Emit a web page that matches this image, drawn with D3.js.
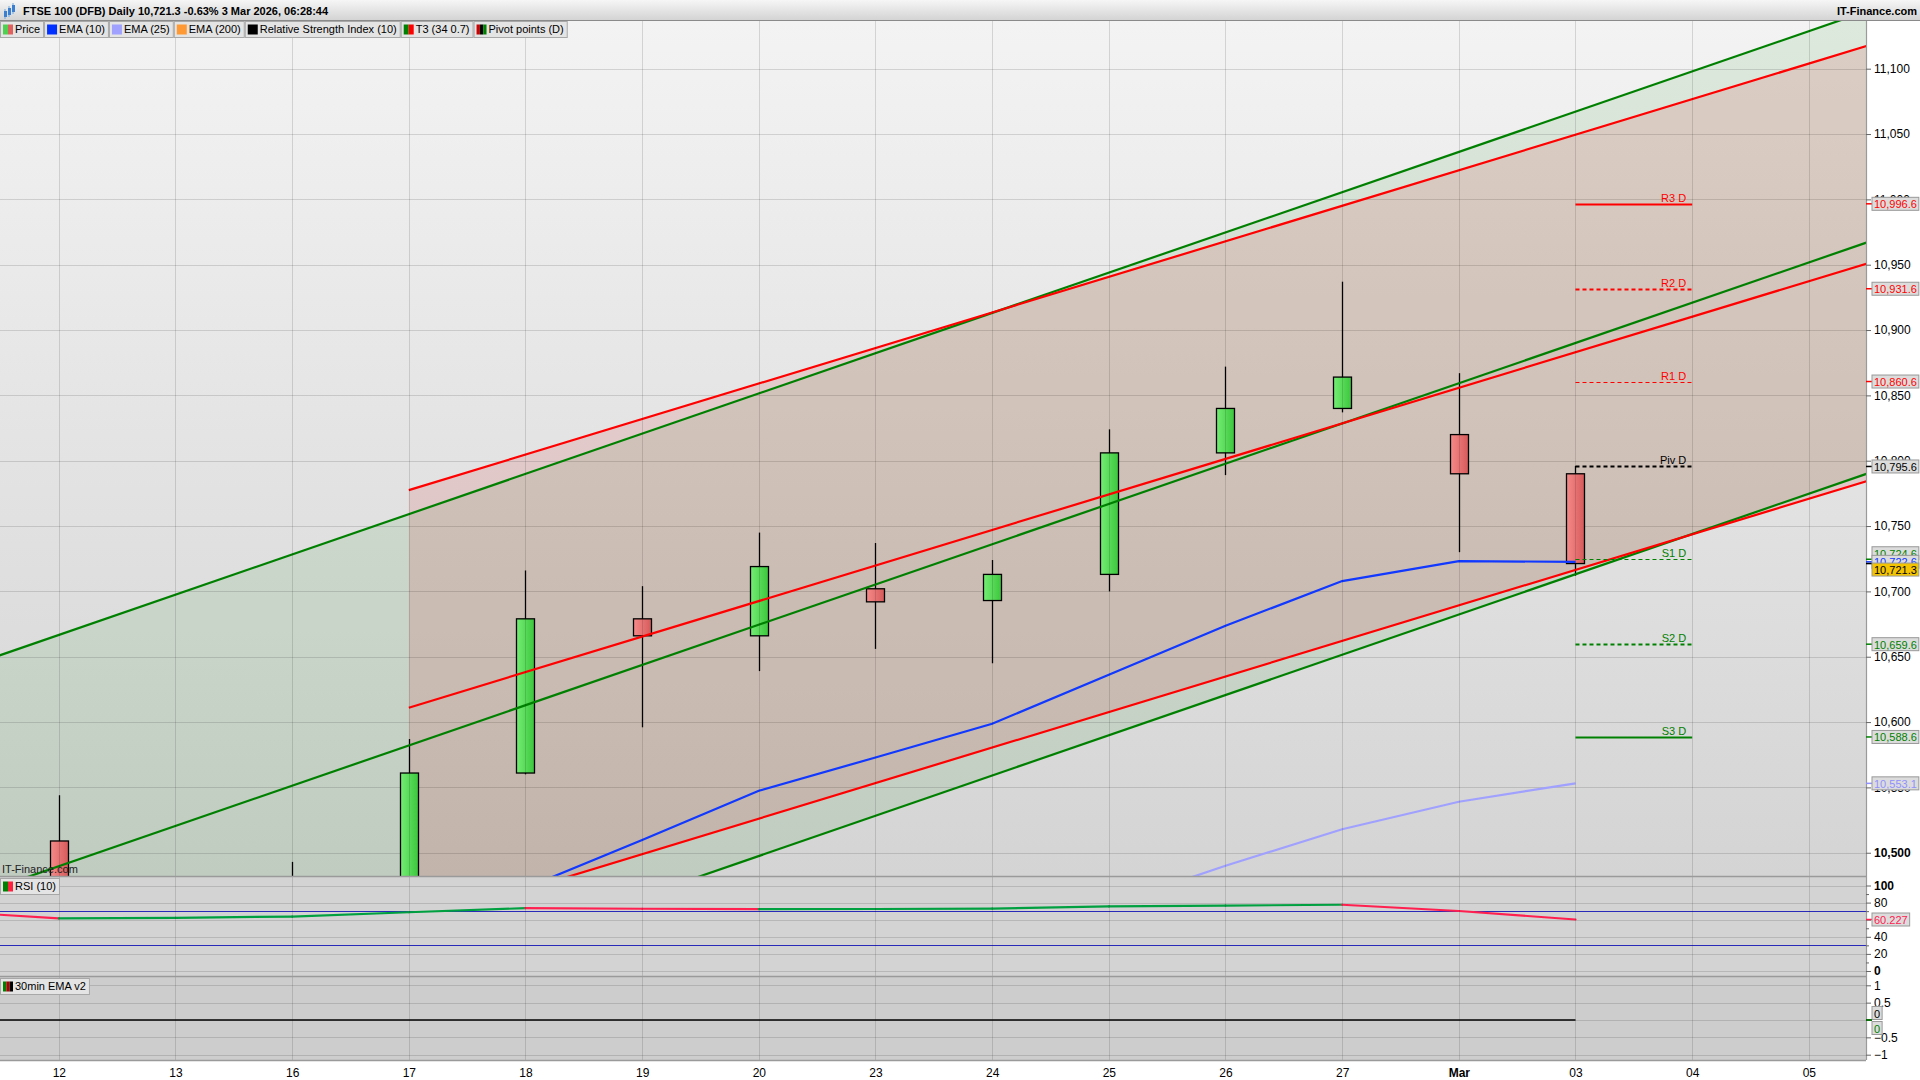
<!DOCTYPE html>
<html><head><meta charset="utf-8">
<script src="https://cdn.jsdelivr.net/npm/d3@7"></script>
<style>
body{margin:0;background:#fff;}
svg{display:block;font-family:"Liberation Sans",Arial,Helvetica,sans-serif;}
</style>
</head><body>
<svg id="c" width="1920" height="1080"></svg>
<script>
// ---------------- DATA ----------------
const dates = ["12","13","16","17","18","19","20","23","24","25","26","27","Mar","03","04","05"];
const openP  = [10509,10445,10440,10462,10561,10679,10666,10702,10693,10713,10806,10840,10820,10790];
const highP  = [10544,10475,10493,10587,10716,10704,10745,10737,10724,10824,10872,10937,10867,10796];
const lowP   = [10420,10400,10420,10450,10560,10596,10639,10656,10645,10700,10789,10837,10730,10712];
const closeP = [10445,10430,10455,10561,10679,10666,10719,10692,10713,10806,10840,10864,10790,10721.3];

const ema10Start = 3;
const ema10 = [10436,10473,10509.7,10547.4,10572.9,10598.7,10636.2,10673.7,10707.9,10723.2,10722.6];
const ema25Start = 8;
const ema25 = [10445,10460,10490,10518,10539,10553.1];

// T3 channels: value at first and last index
const greenIdx   = [-0.6, 15.6];
const greenUpper = [10648.2, 11147.2];
const greenMid   = [10471.2, 10970.2];
const greenLower = [10294.2, 10793.2];
const redIdx     = [3, 15.6];
const redUpper   = [10777.5, 11120.2];
const redMid     = [10611.0, 10953.7];
const redLower   = [10444.5, 10787.2];

const pivotNames  = ["R3 D","R2 D","R1 D","Piv D","S1 D","S2 D","S3 D"];
const pivotValues = [10996.6,10931.6,10860.6,10795.6,10724.6,10659.6,10588.6];
const pivotIdx    = [13, 14];

const rsiStart = -1;
const rsiValues = [70,61.5,62.2,63.7,68.7,73.5,72.8,72.3,72.5,73,75.5,76.5,77.5,70.2,60.227];
const rsiBands = [70, 30];

const emaV2Start = -1;
const emaV2 = [0,0,0,0,0,0,0,0,0,0,0,0,0,0,0];

const priceTicks = [10500,10550,10600,10650,10700,10750,10800,10850,10900,10950,11000,11050,11100];
const rsiTicks = [0,20,40,60,80,100];
const p3Ticks = [-1,-0.5,0,0.5,1];

const legendItems = ["Price","EMA (10)","EMA (25)","EMA (200)","Relative Strength Index (10)","T3 (34 0.7)","Pivot points (D)"];
const legendColors = [["#50d050","#e06060"],["#0030ff"],["#a0a0ff"],["#ff9933"],["#000000"],["#008000","#ff0000"],["#cc0000","#000000","#008000"]];

// ---------------- LAYOUT ----------------
const W = 1920, H = 1080, R = 1866;
const PT = 21, PB = 876, RT = 877, RB = 976, QT = 977, QB = 1060;
const FS = 11;

const svg = d3.select("#c");
const defs = svg.append("defs");

const x = d3.scaleLinear().domain([-0.504, 15.49]).range([0, R]);
const y = d3.scaleLinear().domain([10482.2, 11136.5]).range([PB, PT]);
const yR = d3.scaleLinear().domain([0, 100]).range([971, 885.5]);
const y3 = d3.scaleLinear().domain([-1, 1]).range([1054.7, 985.3]);

// gradients
const bgG = defs.append("linearGradient").attr("id","bgG").attr("x1",0).attr("x2",0).attr("y1",0).attr("y2",1);
bgG.append("stop").attr("offset",0).attr("stop-color","#f3f3f3");
bgG.append("stop").attr("offset",1).attr("stop-color","#d4d4d4");
const hdG = defs.append("linearGradient").attr("id","hdG").attr("x1",0).attr("x2",0).attr("y1",0).attr("y2",1);
hdG.append("stop").attr("offset",0).attr("stop-color","#f6f6f6");
hdG.append("stop").attr("offset",1).attr("stop-color","#d2d2d2");
const upG = defs.append("linearGradient").attr("id","upG");
upG.append("stop").attr("offset",0).attr("stop-color","#74ee74");
upG.append("stop").attr("offset",1).attr("stop-color","#3cc63c");
const dnG = defs.append("linearGradient").attr("id","dnG");
dnG.append("stop").attr("offset",0).attr("stop-color","#f68a8a");
dnG.append("stop").attr("offset",1).attr("stop-color","#d65a5a");

defs.append("clipPath").attr("id","clipP").append("rect").attr("x",0).attr("y",PT).attr("width",R).attr("height",PB-PT);
defs.append("clipPath").attr("id","clipR").append("rect").attr("x",0).attr("y",RT).attr("width",R).attr("height",RB-RT);
defs.append("clipPath").attr("id","clipQ").append("rect").attr("x",0).attr("y",QT).attr("width",R).attr("height",QB-QT);

// backgrounds
svg.append("rect").attr("width",W).attr("height",H).attr("fill","#ffffff");
svg.append("rect").attr("x",0).attr("y",PT).attr("width",R).attr("height",PB-PT).attr("fill","url(#bgG)");
svg.append("rect").attr("x",0).attr("y",RT).attr("width",R).attr("height",RB-RT).attr("fill","#d3d3d3");
svg.append("rect").attr("x",0).attr("y",QT).attr("width",R).attr("height",QB-QT).attr("fill","#cdcdcd");

const gP = svg.append("g").attr("clip-path","url(#clipP)");
const gR = svg.append("g").attr("clip-path","url(#clipR)");
const gQ = svg.append("g").attr("clip-path","url(#clipQ)");

// channel fills
function band(idx, up, lo, fill){
  const pts = [[idx[0], up[0]],[idx[1], up[1]],[idx[1], lo[1]],[idx[0], lo[0]]];
  gP.append("path").attr("d", d3.line().x(d=>x(d[0])).y(d=>y(d[1]))(pts)+"Z").attr("fill", fill);
}
band(greenIdx, greenUpper, greenLower, "rgba(0,128,0,0.085)");
band(redIdx, redUpper, redLower, "rgba(215,0,0,0.115)");

// grid
gP.selectAll(".hg").data(priceTicks).join("line")
  .attr("x1",0).attr("x2",R).attr("y1",d=>Math.round(y(d))+0.5).attr("y2",d=>Math.round(y(d))+0.5)
  .attr("stroke","rgba(0,0,0,0.13)");
gR.selectAll(".hg").data(rsiTicks).join("line")
  .attr("x1",0).attr("x2",R).attr("y1",d=>Math.round(yR(d))+0.5).attr("y2",d=>Math.round(yR(d))+0.5)
  .attr("stroke","rgba(0,0,0,0.13)");
gQ.selectAll(".hg").data(p3Ticks).join("line")
  .attr("x1",0).attr("x2",R).attr("y1",d=>Math.round(y3(d))+0.5).attr("y2",d=>Math.round(y3(d))+0.5)
  .attr("stroke","rgba(0,0,0,0.13)");
svg.append("g").selectAll("line").data(d3.range(dates.length)).join("line")
  .attr("x1",d=>Math.round(x(d))+0.5).attr("x2",d=>Math.round(x(d))+0.5).attr("y1",PT).attr("y2",QB)
  .attr("stroke","rgba(0,0,0,0.13)");

// candles
const cw = 18;
const candles = gP.selectAll(".cd").data(openP.map((o,i)=>({i,o,h:highP[i],l:lowP[i],c:closeP[i]}))).join("g");
candles.append("line")
  .attr("x1",d=>Math.round(x(d.i))+0.5).attr("x2",d=>Math.round(x(d.i))+0.5)
  .attr("y1",d=>y(d.h)).attr("y2",d=>y(d.l)).attr("stroke","#000").attr("stroke-width",1.3);
candles.append("rect")
  .attr("x",d=>Math.round(x(d.i))-cw/2+0.5).attr("width",cw)
  .attr("y",d=>y(Math.max(d.o,d.c))).attr("height",d=>Math.max(1,Math.abs(y(d.o)-y(d.c))))
  .attr("fill",d=>d.c>=d.o?"url(#upG)":"url(#dnG)").attr("stroke","#000").attr("stroke-width",1.3);

// channel lines
function seg(idx, vals, color){
  gP.append("line").attr("x1",x(idx[0])).attr("x2",x(idx[1])).attr("y1",y(vals[0])).attr("y2",y(vals[1]))
    .attr("stroke",color).attr("stroke-width",2.2);
}
seg(greenIdx, greenUpper, "#008000");
seg(greenIdx, greenMid, "#008000");
seg(greenIdx, greenLower, "#008000");
seg(redIdx, redUpper, "#ff0000");
seg(redIdx, redMid, "#ff0000");
seg(redIdx, redLower, "#ff0000");

// EMAs
const ln = d3.line().x(d=>x(d[0])).y(d=>y(d[1]));
gP.append("path").attr("d", ln(ema25.map((v,k)=>[ema25Start+k, v]))).attr("fill","none").attr("stroke","#a0a0ff").attr("stroke-width",2.2);
gP.append("path").attr("d", ln(ema10.map((v,k)=>[ema10Start+k, v]))).attr("fill","none").attr("stroke","#1038ff").attr("stroke-width",2.2);

// pivots
const pivStyle = [
  {c:"#ff0000", w:2.2, dash:null},
  {c:"#ff0000", w:2.2, dash:"4,3"},
  {c:"#ff0000", w:1, dash:"4,3"},
  {c:"#000000", w:2.2, dash:"4,3"},
  {c:"#008000", w:1, dash:"4,3"},
  {c:"#008000", w:2.2, dash:"4,3"},
  {c:"#008000", w:2.2, dash:null}
];
const pivTxt = ["#ff0000","#ff0000","#ff0000","#000000","#008000","#008000","#008000"];
pivotValues.forEach((v,k)=>{
  const yy = Math.round(y(v))+0.5;
  gP.append("line").attr("x1",x(pivotIdx[0])).attr("x2",x(pivotIdx[1])).attr("y1",yy).attr("y2",yy)
    .attr("stroke",pivStyle[k].c).attr("stroke-width",pivStyle[k].w).attr("stroke-dasharray",pivStyle[k].dash);
  gP.append("text").attr("x",x(pivotIdx[1])-6).attr("y",yy-3).attr("text-anchor","end")
    .attr("font-size",11).attr("fill",pivTxt[k]).text(pivotNames[k]);
});

// watermark
svg.append("text").attr("x",2).attr("y",PB-3).attr("font-size",FS).attr("fill","#222").text("IT-Finance.com");

// RSI
gR.selectAll(".band").data(rsiBands).join("line")
  .attr("x1",0).attr("x2",R).attr("y1",d=>Math.round(yR(d))+0.5).attr("y2",d=>Math.round(yR(d))+0.5)
  .attr("stroke","#2a2ab8").attr("stroke-width",1.2);
for(let k=1;k<rsiValues.length;k++){
  const a = rsiValues[k-1], b = rsiValues[k];
  gR.append("line").attr("x1",x(rsiStart+k-1)).attr("x2",x(rsiStart+k)).attr("y1",yR(a)).attr("y2",yR(b))
    .attr("stroke", b>=a ? "#00a040" : "#ff2050").attr("stroke-width",2.2).attr("stroke-linecap","round");
}

// Panel 3 line
gQ.append("path").attr("d", d3.line().x(d=>x(d[0])).y(d=>y3(d[1]))(emaV2.map((v,k)=>[emaV2Start+k,v])))
  .attr("fill","none").attr("stroke","#000").attr("stroke-width",1.5);

// panel borders
[PB, RB, QB].forEach(v=>{
  svg.append("line").attr("x1",0).attr("x2",R).attr("y1",v+0.5).attr("y2",v+0.5).attr("stroke","#9a9a9a").attr("stroke-width",1.5);
});
svg.append("line").attr("x1",R+0.5).attr("x2",R+0.5).attr("y1",PT).attr("y2",QB).attr("stroke","#9a9a9a").attr("stroke-width",1.2);

// ---------------- AXES ----------------
const axP = svg.append("g").attr("transform",`translate(${R},0)`)
  .call(d3.axisRight(y).tickValues(priceTicks).tickFormat(d3.format(",")).tickSize(5).tickPadding(3));
const axR = svg.append("g").attr("transform",`translate(${R},0)`)
  .call(d3.axisRight(yR).tickValues(rsiTicks).tickSize(5).tickPadding(3));
const axR2 = svg.append("g").attr("transform",`translate(${R},0)`)
  .call(d3.axisRight(yR).tickValues([10,30,50,70,90]).tickFormat("").tickSize(3));
const axQ = svg.append("g").attr("transform",`translate(${R},0)`)
  .call(d3.axisRight(y3).tickValues(p3Ticks.filter(d=>d!==0)).tickFormat(d=>d===1||d===-1?d3.format("d")(d):d3.format(".1f")(d)).tickSize(5).tickPadding(3));
[axP, axR, axR2, axQ].forEach(a=>{
  a.select(".domain").remove();
  a.selectAll("line").attr("stroke","#666");
  a.selectAll("text").attr("font-size",12).attr("fill","#000").attr("font-family","Liberation Sans, Arial, sans-serif");
});
axP.selectAll("text").attr("font-weight",d=>d===10500?"bold":"normal");
axR.selectAll("text").attr("font-weight",d=>d===100||d===0?"bold":"normal");

const axX = svg.append("g").attr("transform",`translate(0,${QB})`)
  .call(d3.axisBottom(x).tickValues(d3.range(dates.length)).tickFormat(i=>dates[i]).tickSize(0).tickPadding(8));
axX.select(".domain").remove();
axX.selectAll("text").attr("font-size",12).attr("fill","#000").attr("font-family","Liberation Sans, Arial, sans-serif")
  .attr("font-weight",(d)=>dates[d]==="Mar"?"bold":"normal");

// value tags
function tag(v, scale, text, color, bg, dy){
  const yy = scale(v);
  svg.append("line").attr("x1",R).attr("x2",R+6).attr("y1",yy).attr("y2",yy).attr("stroke",color).attr("stroke-width",1.5);
  const g = svg.append("g").attr("transform",`translate(${R+6},${yy+dy})`);
  const t = g.append("text").attr("x",2).attr("y",4.5).attr("font-size",FS).attr("fill",color).text(text);
  const wdt = t.node().getComputedTextLength()+4;
  g.insert("rect","text").attr("x",0).attr("y",-6.5).attr("width",wdt).attr("height",13)
    .attr("fill",bg).attr("stroke","#999").attr("stroke-width",1);
}
const fmt = d3.format(",.1f");
tag(pivotValues[0], y, fmt(pivotValues[0]), "#ff0000", "#dcdcdc", 0);
tag(pivotValues[1], y, fmt(pivotValues[1]), "#ff0000", "#dcdcdc", 0);
tag(pivotValues[2], y, fmt(pivotValues[2]), "#ff0000", "#dcdcdc", 0);
tag(pivotValues[3], y, fmt(pivotValues[3]), "#000000", "#dcdcdc", 0);
tag(pivotValues[4], y, fmt(pivotValues[4]), "#008000", "#dcdcdc", -6);
tag(ema10[ema10.length-1], y, fmt(ema10[ema10.length-1]), "#1038ff", "#dcdcdc", 0);
tag(closeP[closeP.length-1], y, fmt(closeP[closeP.length-1]), "#000000", "#f5c400", 6);
tag(pivotValues[5], y, fmt(pivotValues[5]), "#008000", "#dcdcdc", 0);
tag(pivotValues[6], y, fmt(pivotValues[6]), "#008000", "#dcdcdc", 0);
tag(ema25[ema25.length-1], y, fmt(ema25[ema25.length-1]), "#9090ff", "#dcdcdc", 0);
tag(rsiValues[rsiValues.length-1], yR, d3.format(".3f")(rsiValues[rsiValues.length-1]), "#ff2050", "#dcdcdc", 0);
tag(0, y3, "0", "#000000", "#dcdcdc", -7);
tag(0, y3, "0", "#008000", "#dcdcdc", 8);

// ---------------- HEADER & LEGENDS ----------------
svg.append("rect").attr("x",0).attr("y",0).attr("width",W).attr("height",PT).attr("fill","url(#hdG)");
svg.append("line").attr("x1",0).attr("x2",W).attr("y1",PT-0.5).attr("y2",PT-0.5).attr("stroke","#8a8a8a");
const ic = svg.append("g");
[[4,9,15],[8,6,13],[12,3,10]].forEach(d=>{
  ic.append("line").attr("x1",d[0]+1).attr("x2",d[0]+1).attr("y1",d[1]).attr("y2",d[2]+4).attr("stroke","#6fa8e0").attr("stroke-width",1);
  ic.append("rect").attr("x",d[0]).attr("y",d[1]+2).attr("width",3).attr("height",d[2]-d[1]).attr("fill","#3a7fd0");
});
svg.append("text").attr("x",23).attr("y",15).attr("font-size",FS).attr("font-weight","bold").attr("fill","#000")
  .text("FTSE 100 (DFB) Daily 10,721.3 -0.63% 3 Mar 2026, 06:28:44");
svg.append("text").attr("x",W-3).attr("y",15).attr("text-anchor","end").attr("font-size",FS).attr("font-weight","bold").attr("fill","#000")
  .text("IT-Finance.com");

function legendBox(x0, y0, label, cols){
  const g = svg.append("g").attr("transform",`translate(${x0},${y0})`);
  const t = g.append("text").attr("x",15).attr("y",12).attr("font-size",FS).attr("fill","#000").text(label);
  const wdt = t.node().getComputedTextLength()+18;
  g.insert("rect","text").attr("x",0.5).attr("y",0.5).attr("width",wdt).attr("height",16).attr("fill","#e4e4e4").attr("stroke","#a8a8a8");
  const sw = 10/cols.length;
  cols.forEach((c,k)=>g.append("rect").attr("x",3+k*sw).attr("y",3.5).attr("width",sw).attr("height",10).attr("fill",c));
  return wdt+1;
}
let lx = 0;
legendItems.forEach((l,k)=>{ lx += legendBox(lx, PT, l, legendColors[k]); });
legendBox(0, RT+1, "RSI (10)", ["#008000","#ff2040"]);
legendBox(0, QT+1, "30min EMA v2", ["#008000","#aa0000","#000000"]);
</script>
</body></html>
